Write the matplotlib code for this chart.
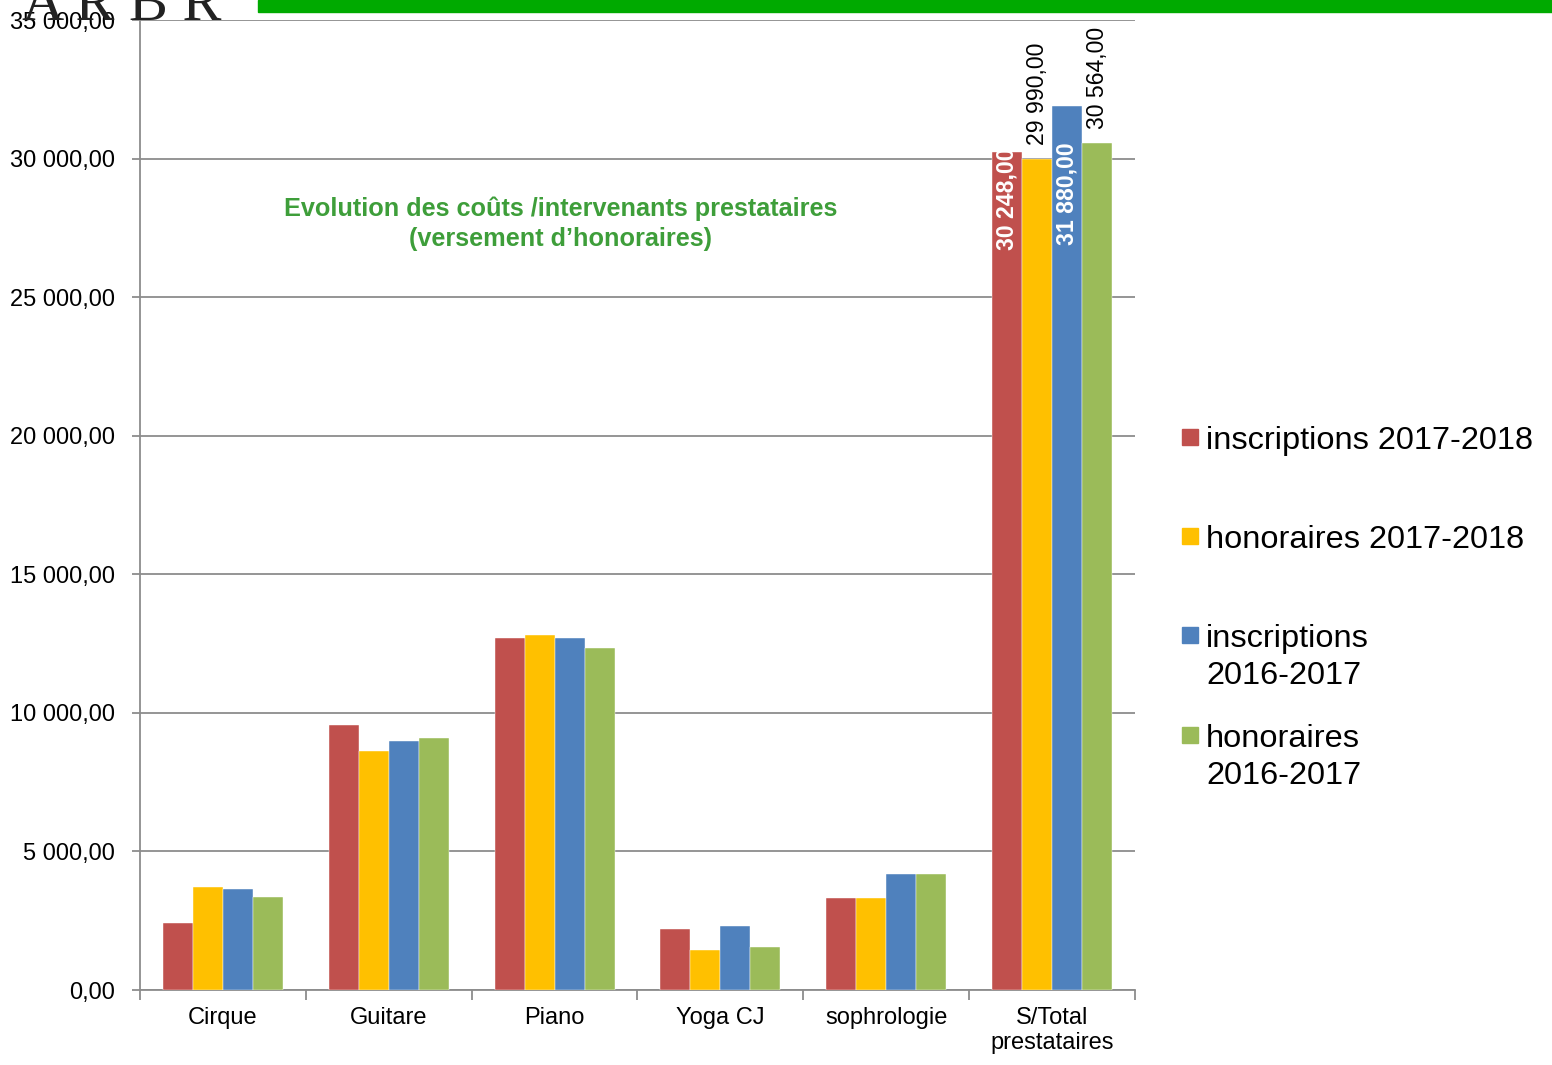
import numpy as np
import matplotlib
matplotlib.use("Agg")
import matplotlib.pyplot as plt
from matplotlib.patches import Rectangle

plt.rcParams['font.family'] = ['Liberation Sans', 'DejaVu Sans']

categories = ["Cirque", "Guitare", "Piano", "Yoga CJ", "sophrologie", "S/Total\nprestataires"]
insc_1718 = [2420, 9560, 12700, 2190, 3330, 30248]
hono_1718 = [3720, 8630, 12810, 1440, 3330, 29990]
insc_1617 = [3630, 8990, 12700, 2300, 4190, 31880]
hono_1617 = [3350, 9090, 12340, 1550, 4190, 30564]
series = [insc_1718, hono_1718, insc_1617, hono_1617]
labels = ["inscriptions 2017-2018", "honoraires 2017-2018",
          "inscriptions\n2016-2017", "honoraires\n2016-2017"]
colors = ["#C0504D", "#FFC000", "#4F81BD", "#9BBB59"]


def fmt(v):
    return "{:,.2f}".format(v).replace(",", " ").replace(".", ",")


W, H = 1552, 1065
fig = plt.figure(figsize=(W / 100, H / 100), dpi=100)
ax = fig.add_axes([140 / W, 1 - 990 / H, (1135 - 140) / W, (990 - 20) / H])

x = np.arange(len(categories))
bw = 0.181
bars = []
for i, (vals, c, lab) in enumerate(zip(series, colors, labels)):
    b = ax.bar(x + (i - 1.5) * bw, vals, bw, color=c, label=lab, zorder=3,
               edgecolor="white", linewidth=0.3)
    bars.append(b)

ax.set_xlim(-0.5, len(categories) - 0.5)
ax.set_ylim(0, 35000)
yt = np.arange(0, 35001, 5000)
ax.set_yticks(yt)
ax.set_yticklabels([fmt(v) for v in yt], fontsize=17)
ax.yaxis.grid(True, color="#8c8c8c", linewidth=1.3, zorder=0)
ax.set_axisbelow(True)

ax.set_xticks(np.arange(-0.5, len(categories)), minor=False)
ax.set_xticklabels([""] * (len(categories) + 1))
ax.set_xticks(x, minor=True)
ax.set_xticklabels(categories, minor=True, fontsize=17, linespacing=1.2)
ax.tick_params(axis="x", which="major", length=7, color="#8c8c8c", width=1.3)
ax.tick_params(axis="x", which="minor", length=0, pad=12)
ax.tick_params(axis="y", length=6, color="#8c8c8c", width=1.3, pad=12)

for s in ["top", "right"]:
    ax.spines[s].set_visible(False)
for s in ["left", "bottom"]:
    ax.spines[s].set_color("#8c8c8c")
    ax.spines[s].set_linewidth(1.3)

# data labels on the total group
last = len(categories) - 1
for i, b in enumerate(bars):
    rect = b[last]
    v = series[i][last]
    cx = rect.get_x() + rect.get_width() / 2
    if i in (0, 2):
        y = 28550 if i == 0 else 28750
        t = ax.text(cx, y, fmt(v), rotation=90, ha="center", va="center",
                    color="white", fontweight="bold", fontsize=16.6, zorder=5)
        t.set_clip_path(rect)
    else:
        ax.annotate(fmt(v), (cx, v), xytext=(0, 10), textcoords="offset points",
                    rotation=90, ha="center", va="bottom", fontsize=16.6,
                    annotation_clip=False)

ax.text(0.423, 0.79, "Evolution des coûts /intervenants prestataires\n(versement d\u2019honoraires)",
        transform=ax.transAxes, ha="center", va="center", color="#3E9E3A",
        fontweight="bold", fontsize=18.2, linespacing=1.28)

# legend, one entry per series, square swatch beside the first text line
leg_x = 1182
leg_base = [449, 548, 647, 747]
line_h = 37
sq = 16
for lab, c, yb in zip(labels, colors, leg_base):
    fig.patches.append(Rectangle((leg_x / W, 1 - (yb - 4) / H), sq / W, sq / H,
                                 transform=fig.transFigure, color=c))
    nl = lab.count("\n")
    fig.text((leg_x + 24) / W, 1 - (yb + nl * line_h) / H, lab, fontsize=23.4,
             va="baseline", ha="left", linespacing=1.32)

# header decoration
fig.patches.append(Rectangle((258 / W, 1 - 12 / H), 1 - 258 / W, 12 / H,
                             transform=fig.transFigure, color="#00AA00",
                             zorder=0))
fig.text(22 / W, 1 - 20 / H, "A R B R", family="Liberation Serif",
         fontsize=42, va="baseline", ha="left", color="#222222")

fig.savefig("out.png", dpi=100)
